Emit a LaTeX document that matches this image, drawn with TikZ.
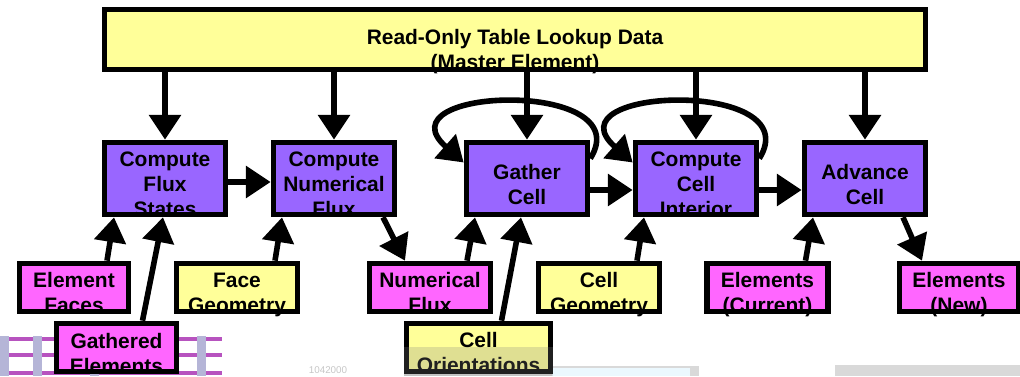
\documentclass[tikz,border=0pt]{standalone}
\usepackage{fontspec}
\setmainfont{Liberation Sans}
\usetikzlibrary{
    arrows.meta,
    calc
}
\definecolor{kernelfill}{RGB}{153,102,255}
\definecolor{datafill}{RGB}{255,102,255}
\definecolor{lookupfill}{RGB}{255,255,153}
\definecolor{stripe}{RGB}{165,40,175}
\newcommand{\boxfont}{\fontsize{14.9}{17.9}\selectfont\bfseries}
% text hangs from the top edge and may run past the bottom border
\newcommand{\boxlines}[3]{\makebox[0pt]{\parbox[c][#1][t]{20cm}{\centering\rule{0pt}{#2}#3}}}
\tikzstyle{unit} = [
    rectangle,
    draw=black,
    line width=0.14cm,
    inner sep=0pt,
    font=\boxfont
]
\tikzstyle{kernel} = [
    unit,
    fill=kernelfill,
    minimum width=3.025cm,
    minimum height=1.8cm
]
\tikzstyle{dataset} = [
    unit,
    fill=datafill,
    minimum width=3.025cm,
    minimum height=1.2cm
]
\tikzstyle{lookup} = [
    unit,
    fill=lookupfill,
    minimum width=3.025cm,
    minimum height=1.2cm
]
\tikzstyle{flow} = [
    -{Triangle[length=0.62cm, width=0.78cm]},
    line width=0.14cm
]
\begin{document}
\begin{tikzpicture}[x=0.025cm, y=-0.025cm]
        \useasboundingbox (0,0) rectangle (1020,376);

        % screen clutter along the bottom edge
        \foreach \y in {339,355,373}
            \fill[stripe!80] (0,\y-2) rectangle (222,\y+2);
        \foreach \x in {0,33,90,197}
            \fill[blue!30!gray!45] (\x,336) rectangle (\x+9,376);
        \node[text=gray!45, font=\fontsize{7}{8}\selectfont] (stamp) at (328,370) {1042000};
        \fill[gray!30] (404,366) rectangle (699,376);
        \fill[cyan!8] (552,368) rectangle (690,376);
        \fill[gray!30] (835,365) rectangle (1020,376);

        % lookup table
        \node[lookup, minimum width=20.525cm, minimum height=1.5cm] (master) at (515,39.5)
            {\boxlines{1.5cm}{0.875cm}{Read-Only Table Lookup Data\\(Master Element)}};

        % kernels
        \node[kernel] (cfs) at (165,178.5) {\boxlines{1.8cm}{0.6cm}{Compute\\Flux\\States}};
        \node[kernel] (cnf) at (334,178.5) {\boxlines{1.8cm}{0.6cm}{Compute\\Numerical\\Flux}};
        \node[kernel] (gc) at (527,178.5) {\boxlines{1.8cm}{0.925cm}{Gather\\Cell}};
        \node[kernel] (cci) at (696,178.5) {\boxlines{1.8cm}{0.6cm}{Compute\\Cell\\Interior}};
        \node[kernel] (adv) at (865,178.5) {\boxlines{1.8cm}{0.925cm}{Advance\\Cell}};

        % streams
        \node[dataset, minimum width=2.725cm] (ef) at (74,287.5) {\boxlines{1.2cm}{0.6cm}{Element\\Faces}};
        \node[lookup] (fg) at (237,287.5) {\boxlines{1.2cm}{0.6cm}{Face\\Geometry}};
        \node[dataset] (nf) at (430,287.5) {\boxlines{1.2cm}{0.6cm}{Numerical\\Flux}};
        \node[lookup] (cg) at (599,287.5) {\boxlines{1.2cm}{0.6cm}{Cell\\Geometry}};
        \node[dataset] (ecur) at (767.5,287.5) {\boxlines{1.2cm}{0.6cm}{Elements\\(Current)}};
        \node[dataset, minimum width=2.975cm] (enew) at (959,287.5) {\boxlines{1.2cm}{0.6cm}{Elements\\(New)}};
        \node[dataset, minimum width=3cm] (ge) at (116.5,347.5) {\boxlines{1.2cm}{0.625cm}{Gathered\\Elements}};
        \node[lookup, minimum width=3.6cm] (co) at (478.5,347.5) {\boxlines{1.2cm}{0.6cm}{Cell\\Orientations}};
        \fill[gray, opacity=0.25] (404,347) rectangle (553,376);

        % table reads
        \foreach \k in {cfs,cnf,gc,cci,adv}
            \draw[flow] (master.south -| \k) -- (\k.north);

        % pipeline
        \draw[flow] ($(cfs.east)+(0,3.5)$) -- ($(cnf.west)+(0,3.5)$);
        \draw[flow] ($(gc.east)+(0,11.5)$) -- ($(cci.west)+(0,11.5)$);
        \draw[flow] ($(cci.east)+(0,11.5)$) -- ($(adv.west)+(0,11.5)$);
        \draw[flow] ($(cnf.south)+(49,0)$) -- ($(nf.north)+(-25,0)$);
        \draw[flow] ($(nf.north)+(37,0)$) -- ($(gc.south)+(-52,0)$);
        \draw[flow] ($(adv.south)+(38,0)$) -- ($(enew.north)+(-37,0)$);

        % inputs
        \draw[flow] ($(ef.north)+(33,0)$) -- ($(cfs.south)+(-51,0)$);
        \draw[flow] ($(ge.north)+(26,0)$) -- ($(cfs.south)+(-2,0)$);
        \draw[flow] ($(fg.north)+(38,0)$) -- ($(cnf.south)+(-52,0)$);
        \draw[flow] ($(co.north)+(23,0)$) -- ($(gc.south)+(-6,0)$);
        \draw[flow] ($(cg.north)+(38,0)$) -- ($(cci.south)+(-52,0)$);
        \draw[flow] ($(ecur.north)+(38,0)$) -- ($(adv.south)+(-52,0)$);

        % self loops
        \draw[flow] ($(gc.east)+(0,-20)$) .. controls +(50,-80) and +(-86,-76) .. ($(gc.west)+(0,-16)$);
        \draw[flow] ($(cci.east)+(0,-20)$) .. controls +(50,-80) and +(-86,-76) .. ($(cci.west)+(0,-16)$);
    \end{tikzpicture}
\end{document}
